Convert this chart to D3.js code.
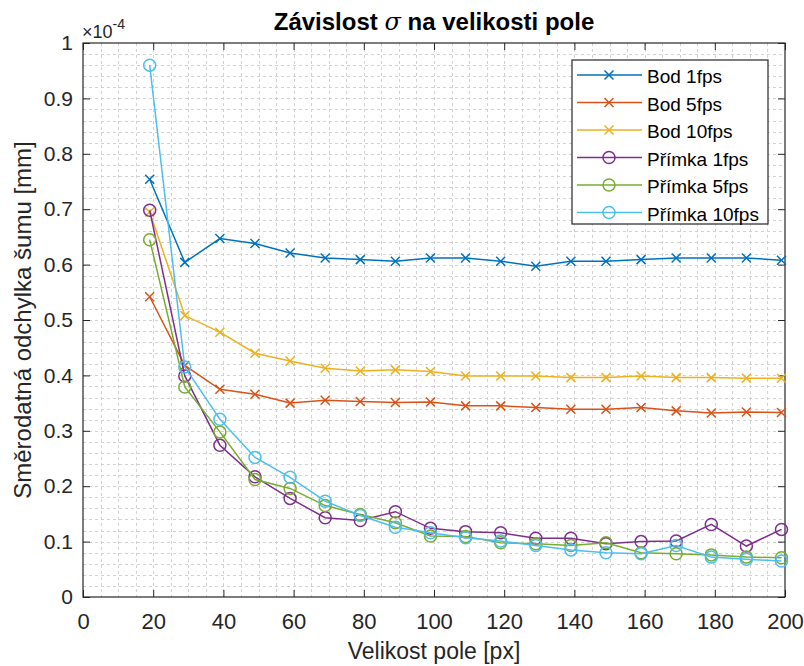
<!DOCTYPE html>
<html>
<head>
<meta charset="utf-8">
<script src="https://cdn.jsdelivr.net/npm/d3@7"></script>
<style>
  body { margin: 0; background: #fff; }
  text { font-family: "Liberation Sans", Arial, sans-serif; }
</style>
</head>
<body>
<div id="chart"></div>
<script>
// field sizes [px]
var sizes = [19, 29, 39, 49, 59, 69, 79, 89, 99, 109, 119, 129, 139, 149, 159, 169, 179, 189, 199];

// noise std dev, in units of 1e-4 mm
var bod1 = [0.754, 0.604, 0.647, 0.638, 0.621, 0.612, 0.609, 0.606, 0.612, 0.612, 0.606, 0.597, 0.606, 0.606, 0.609, 0.612, 0.612, 0.612, 0.608];
var bod5 = [0.542, 0.418, 0.375, 0.366, 0.350, 0.355, 0.353, 0.351, 0.352, 0.345, 0.345, 0.342, 0.339, 0.339, 0.342, 0.336, 0.332, 0.334, 0.333];
var bod10 = [0.695, 0.508, 0.478, 0.440, 0.426, 0.413, 0.408, 0.410, 0.407, 0.399, 0.399, 0.399, 0.396, 0.396, 0.399, 0.396, 0.396, 0.395, 0.395];
var primka1 = [0.698, 0.399, 0.274, 0.217, 0.178, 0.143, 0.138, 0.154, 0.124, 0.118, 0.116, 0.106, 0.106, 0.096, 0.100, 0.101, 0.131, 0.092, 0.122];
var primka5 = [0.645, 0.379, 0.298, 0.212, 0.196, 0.165, 0.149, 0.134, 0.110, 0.109, 0.098, 0.096, 0.093, 0.098, 0.080, 0.078, 0.076, 0.072, 0.071];
var primka10 = [0.960, 0.415, 0.321, 0.252, 0.216, 0.173, 0.147, 0.126, 0.116, 0.107, 0.101, 0.093, 0.085, 0.080, 0.078, 0.093, 0.072, 0.068, 0.065];

var seriesNames = ['Bod 1fps', 'Bod 5fps', 'Bod 10fps', 'Přímka 1fps', 'Přímka 5fps', 'Přímka 10fps'];
var xTicks = [0, 20, 40, 60, 80, 100, 120, 140, 160, 180, 200];
var yTicks = [0, 0.1, 0.2, 0.3, 0.4, 0.5, 0.6, 0.7, 0.8, 0.9, 1];

var series = [
  {name: seriesNames[0], values: bod1, color: '#0072BD', marker: 'x'},
  {name: seriesNames[1], values: bod5, color: '#D95319', marker: 'x'},
  {name: seriesNames[2], values: bod10, color: '#EDB120', marker: 'x'},
  {name: seriesNames[3], values: primka1, color: '#7E2F8E', marker: 'o'},
  {name: seriesNames[4], values: primka5, color: '#77AC30', marker: 'o'},
  {name: seriesNames[5], values: primka10, color: '#4DBEEE', marker: 'o'}
];

var margin = {top: 43, right: 19, bottom: 69, left: 83},
  width = 804 - margin.left - margin.right,
  height = 666 - margin.top - margin.bottom;

var root = d3.select('#chart').append('svg')
  .attr('width', 804)
  .attr('height', 666);

var svg = root.append('g')
  .attr('transform', 'translate(' + margin.left + ',' + margin.top + ')');

var x = d3.scaleLinear().domain([0, 200]).range([0, width]);
var y = d3.scaleLinear().domain([0, 1]).range([height, 0]);

// minor grid (every 5 px on x, every 0.02 on y)
var xGrid = d3.range(5, 200, 5);
var yGrid = d3.range(1, 50).map(function (d) { return d * 0.02; });

svg.append('g').selectAll('line')
  .data(xGrid)
  .enter().append('line')
  .attr('x1', function (d) { return Math.round(x(d)) + 0.5; })
  .attr('x2', function (d) { return Math.round(x(d)) + 0.5; })
  .attr('y1', 0)
  .attr('y2', height)
  .style('stroke', '#d2d2d2')
  .style('stroke-dasharray', '3,3');

svg.append('g').selectAll('line')
  .data(yGrid)
  .enter().append('line')
  .attr('y1', function (d) { return Math.round(y(d)) + 0.5; })
  .attr('y2', function (d) { return Math.round(y(d)) + 0.5; })
  .attr('x1', 0)
  .attr('x2', width)
  .style('stroke', '#d2d2d2')
  .style('stroke-dasharray', '3,3');

// axes with inward ticks, box on all sides
function styleAxis(g, size) {
  g.select('.domain').remove();
  g.selectAll('.tick line').style('stroke', '#262626');
  g.selectAll('.tick text')
    .style('fill', '#262626')
    .style('font-size', size + 'px')
    .style('font-family', '"Liberation Sans", Arial, sans-serif');
}

svg.append('g')
  .attr('transform', 'translate(0,' + height + ')')
  .call(d3.axisBottom(x).tickValues(xTicks).tickSizeInner(-7).tickSizeOuter(0).tickPadding(16).tickFormat(d3.format('d')))
  .call(styleAxis, 22);

svg.append('g')
  .call(d3.axisTop(x).tickValues(xTicks).tickSizeInner(-7).tickSizeOuter(0).tickFormat(''))
  .call(styleAxis, 22);

svg.append('g')
  .call(d3.axisLeft(y).tickValues(yTicks).tickSizeInner(-7).tickSizeOuter(0).tickPadding(10).tickFormat(function (d) { return d === 0 || d === 1 ? d : d3.format('.1f')(d); }))
  .call(styleAxis, 21);

svg.append('g')
  .attr('transform', 'translate(' + width + ',0)')
  .call(d3.axisRight(y).tickValues(yTicks).tickSizeInner(-7).tickSizeOuter(0).tickFormat(''))
  .call(styleAxis, 21);

svg.append('rect')
  .attr('width', width)
  .attr('height', height)
  .style('fill', 'none')
  .style('stroke', '#262626')
  .style('stroke-width', 1.2);

// lines
var line = d3.line()
  .x(function (d, i) { return x(sizes[i]); })
  .y(function (d) { return y(d); });

function drawMarker(g, type, color) {
  if (type === 'x') {
    g.append('path')
      .attr('d', 'M-4.5,-4.5L4.5,4.5M-4.5,4.5L4.5,-4.5')
      .style('stroke', color)
      .style('stroke-width', 1.5)
      .style('fill', 'none');
  } else {
    g.append('circle')
      .attr('r', 6)
      .style('stroke', color)
      .style('stroke-width', 1.5)
      .style('fill', 'none');
  }
}

series.forEach(function (s) {
  svg.append('path')
    .datum(s.values)
    .attr('d', line)
    .style('fill', 'none')
    .style('stroke', s.color)
    .style('stroke-width', 1.5);

  svg.append('g').selectAll('g')
    .data(s.values)
    .enter().append('g')
    .attr('transform', function (d, i) { return 'translate(' + x(sizes[i]) + ',' + y(d) + ')'; })
    .each(function () { drawMarker(d3.select(this), s.marker, s.color); });
});

// legend
var legend = root.append('g').attr('transform', 'translate(572,60)');
legend.append('rect')
  .attr('width', 196)
  .attr('height', 164)
  .style('fill', '#fff')
  .style('stroke', '#262626')
  .style('stroke-width', 1.2);

series.forEach(function (s, i) {
  var row = legend.append('g').attr('transform', 'translate(0,' + (15 + i * 27.5) + ')');
  row.append('line')
    .attr('x1', 5).attr('x2', 70)
    .style('stroke', s.color)
    .style('stroke-width', 1.5);
  drawMarker(row.append('g').attr('transform', 'translate(37,0)'), s.marker, s.color);
  row.append('text')
    .attr('x', 75)
    .attr('y', 8)
    .style('font-size', '19px')
    .style('fill', '#000')
    .text(s.name);
});

// title
var title = root.append('text')
  .attr('x', margin.left + width / 2)
  .attr('y', 30)
  .attr('text-anchor', 'middle')
  .style('font-size', '24px')
  .style('font-weight', 'bold')
  .style('fill', '#000');
title.append('tspan').text('Závislost ');
title.append('tspan').style('font-family', '"DejaVu Serif", serif').style('font-style', 'italic').style('font-weight', 'normal').text('σ');
title.append('tspan').text(' na velikosti pole');

// exponent
var expo = root.append('text')
  .attr('x', 82)
  .attr('y', 38)
  .style('font-size', '18px')
  .style('fill', '#262626');
expo.append('tspan').text('×10');
expo.append('tspan').attr('dy', -9).style('font-size', '14px').text('-4');

// axis titles
root.append('text')
  .attr('x', margin.left + width / 2)
  .attr('y', 659)
  .attr('text-anchor', 'middle')
  .style('font-size', '23px')
  .style('fill', '#262626')
  .text('Velikost pole [px]');

root.append('text')
  .attr('transform', 'translate(31,' + (margin.top + height / 2) + ') rotate(-90)')
  .attr('text-anchor', 'middle')
  .style('font-size', '24px')
  .style('fill', '#262626')
  .text('Směrodatná odchylka šumu [mm]');
</script>
</body>
</html>
